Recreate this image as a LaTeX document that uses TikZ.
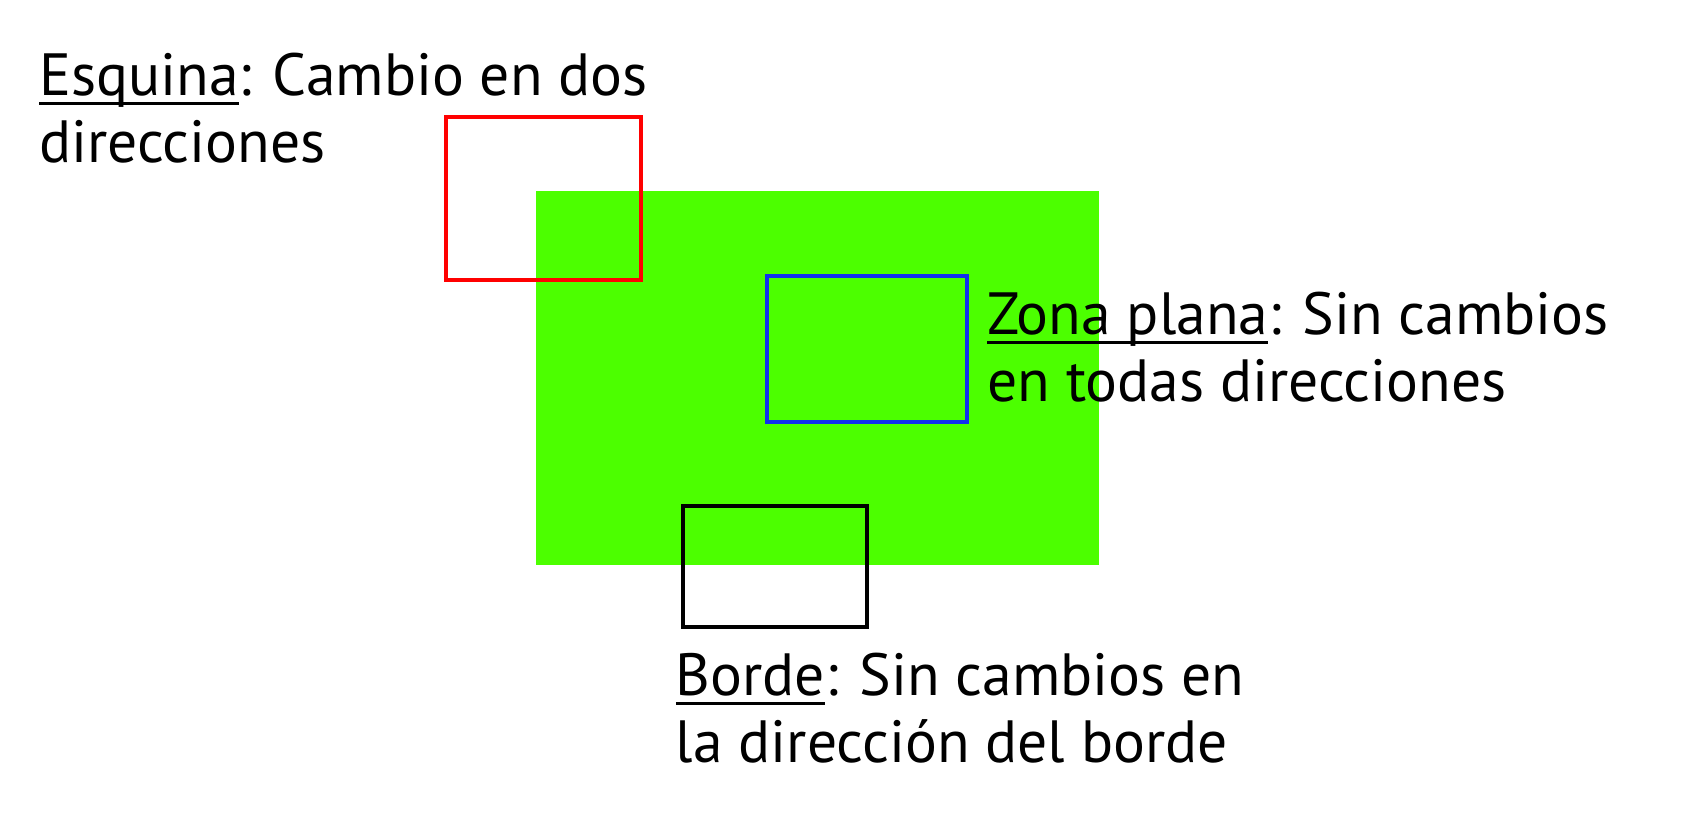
\documentclass[tikz,border=0pt]{standalone}
\usepackage{fontspec}
\setmainfont{PT Sans}
\usepackage{tikz}
\usetikzlibrary{positioning}
\definecolor{ZonaVerde}{HTML}{4CFF00}
\definecolor{MarcoRojo}{HTML}{FF0000}
\definecolor{MarcoAzul}{HTML}{1030F0}
% underline at a fixed depth below the baseline
\newcommand{\subraya}[1]{\setbox0\hbox{#1}\rlap{\rule[-5pt]{\wd0}{1.5pt}}\box0}

\begin{document}
\begin{tikzpicture}[
        x=0.5pt,y=-0.5pt,
        marco/.style={line width=2.2pt},
        etiqueta/.style={anchor=base west,inner sep=0pt,align=left,font=\fontsize{29.8}{33.4}\selectfont}
      ]
        \useasboundingbox (0,0) rectangle (1700,824);
        \fill[ZonaVerde] (535.6,190.8) rectangle (1099.4,564.9);
        \draw[marco,MarcoRojo] (446,117) rectangle (641,280);
        \draw[marco,MarcoAzul] (767,276) rectangle (967,422);
        \draw[marco,black] (683,506) rectangle (867,627);
        % anchor is the baseline of the second line
        \node[etiqueta] (esquina) at (39,162) {\subraya{Esquina}: Cambio en dos\\direcciones};
        \node[etiqueta] (plana) at (987,401) {\subraya{Zona plana}: Sin cambios\\en todas direcciones};
        \node[etiqueta] (borde) at (675.5,762) {\subraya{Borde}: Sin cambios en\\la dirección del borde};
      \end{tikzpicture}
\end{document}
